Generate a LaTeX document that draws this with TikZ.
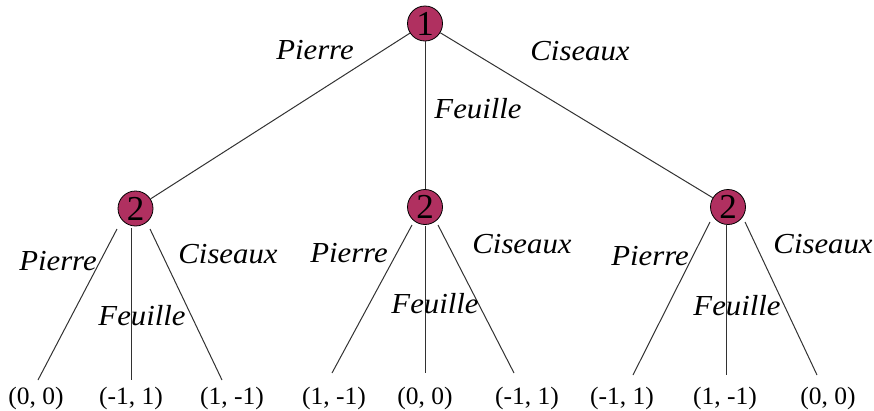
\documentclass[tikz,border=0pt]{standalone}
\usepackage{fontspec}
\setmainfont{Liberation Serif}
\definecolor{nodefill}{RGB}{176,48,96}
\definecolor{edgecol}{RGB}{50,50,50}
\begin{document}
\begin{tikzpicture}[x=1pt,y=-1pt,
  player/.style={circle,draw=black,line width=0.8pt,fill=nodefill,inner sep=0pt,minimum size=35pt,font=\fontsize{35}{35}\selectfont},
  move/.style={anchor=base,inner sep=0pt,xscale=1.06,font=\fontsize{29}{32}\selectfont\itshape},
  pay/.style={anchor=base,inner sep=0pt,xscale=1.02,font=\fontsize{25}{28}\selectfont},
  edge/.style={draw=edgecol,line width=1pt}]
\useasboundingbox (0,0) rectangle (874,410);
% players
\node[player] (r) at (425,23.5) {1};
\node[player] (a) at (135.5,208.5) {2};
\node[player] (b) at (425,207) {2};
\node[player] (c) at (728,207) {2};
% root edges
\draw[edge] (r) -- (a);
\draw[edge] (r) -- (b);
\draw[edge] (r) -- (c);
% leaf line coordinates
\coordinate (a1s) at (117,229); \coordinate (a1e) at (38,380);
\coordinate (a2s) at (131,228); \coordinate (a2e) at (131,380);
\coordinate (a3s) at (150,229); \coordinate (a3e) at (222,380);
\coordinate (b1s) at (412,225); \coordinate (b1e) at (332,373);
\coordinate (b2s) at (425,226); \coordinate (b2e) at (425,373);
\coordinate (b3s) at (438,225); \coordinate (b3e) at (514,373);
\coordinate (c1s) at (710,222); \coordinate (c1e) at (633,375);
\coordinate (c2s) at (726,224); \coordinate (c2e) at (726,375);
\coordinate (c3s) at (745,222); \coordinate (c3e) at (817,375);
\foreach \p in {a,b,c}{\foreach \i in {1,2,3}{\draw[edge] (\p\i s) -- (\p\i e);}}
% move labels
\node[move] (m1) at (315,59) {Pierre};
\node[move] (m2) at (478,118) {Feuille};
\node[move] (m3) at (580,60) {Ciseaux};
\node[move] (ma1) at (58,270) {Pierre};
\node[move] (ma2) at (142,325) {Feuille};
\node[move] (ma3) at (228,263) {Ciseaux};
\node[move] (mb1) at (349,262) {Pierre};
\node[move] (mb2) at (435,313) {Feuille};
\node[move] (mb3) at (522,253) {Ciseaux};
\node[move] (mc1) at (650,265) {Pierre};
\node[move] (mc2) at (737,315) {Feuille};
\node[move] (mc3) at (823,253) {Ciseaux};
% payoffs
\node[pay] (la1) at (36,404) {(0, 0)};
\node[pay] (la2) at (131,404) {(-1, 1)};
\node[pay] (la3) at (232,404) {(1, -1)};
\node[pay] (lb1) at (334,404) {(1, -1)};
\node[pay] (lb2) at (425,404) {(0, 0)};
\node[pay] (lb3) at (527,404) {(-1, 1)};
\node[pay] (lc1) at (622,404) {(-1, 1)};
\node[pay] (lc2) at (725,404) {(1, -1)};
\node[pay] (lc3) at (828,404) {(0, 0)};
\end{tikzpicture}
\end{document}
